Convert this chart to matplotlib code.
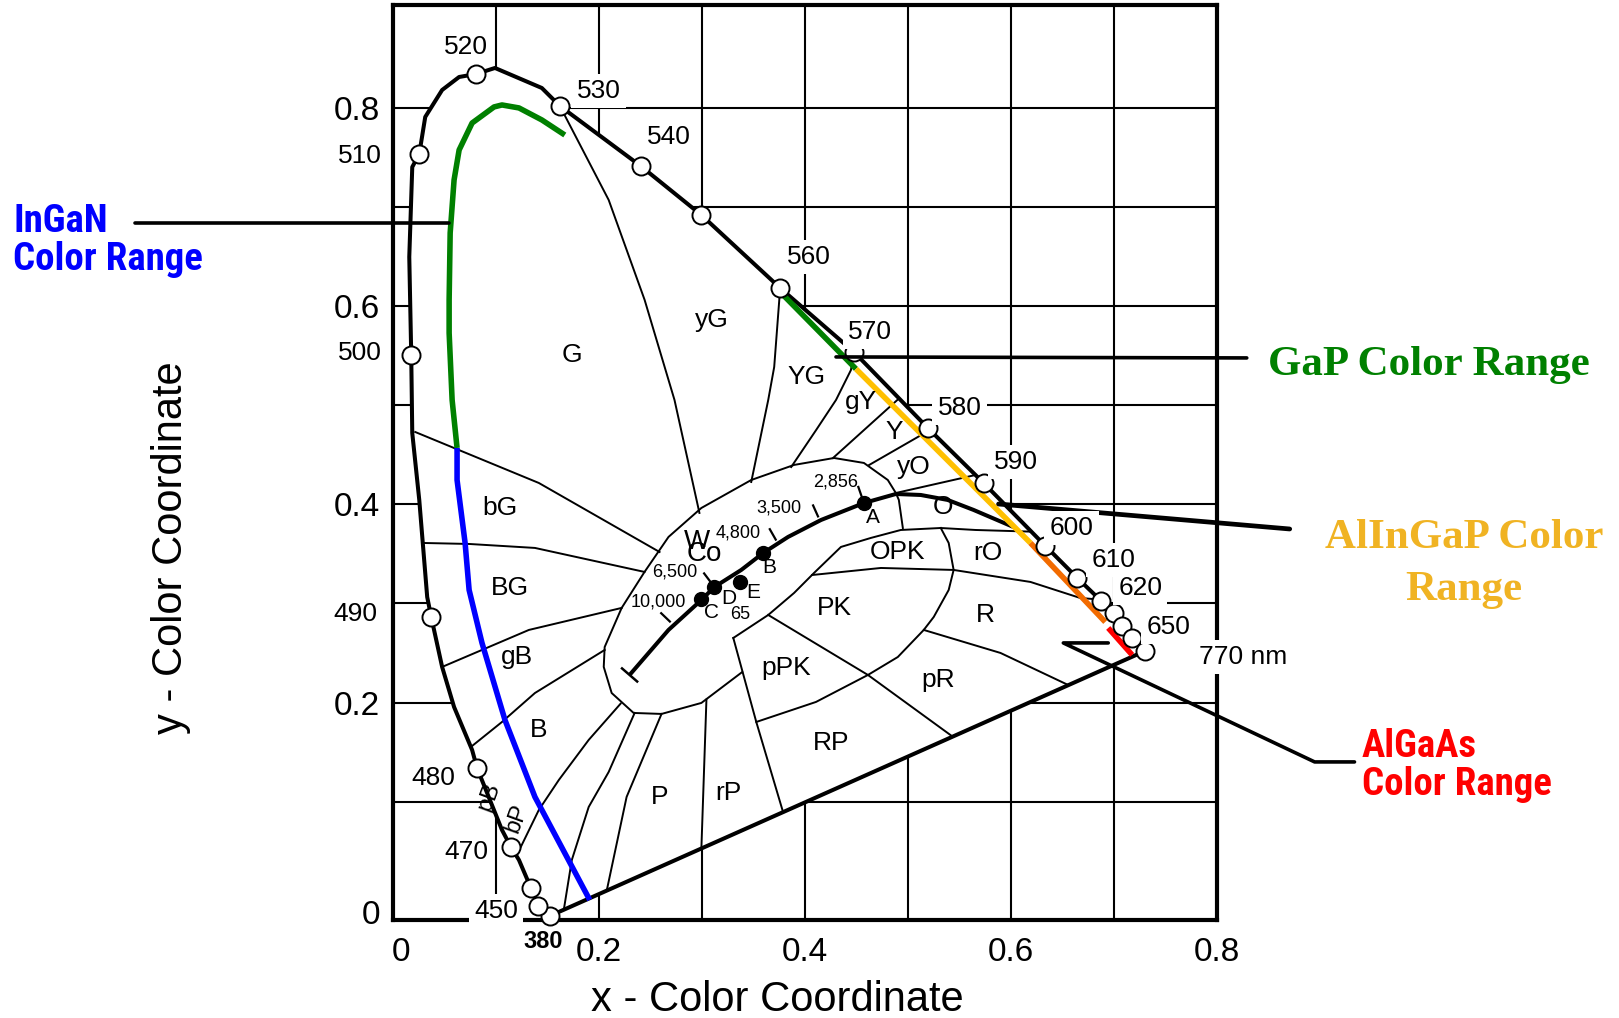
import matplotlib
matplotlib.use("Agg")
import matplotlib.pyplot as plt
from matplotlib import font_manager as fm
from matplotlib.transforms import ScaledTranslation
import numpy as np

plt.rcParams['font.family'] = ['Liberation Sans', 'DejaVu Sans']

# ---------------- data ----------------
x_ticks = [0, 0.2, 0.4, 0.6, 0.8]
x_tick_labels = ['0', '0.2', '0.4', '0.6', '0.8']
y_ticks = [0, 0.2, 0.4, 0.6, 0.8]
y_tick_labels = ['0', '0.2', '0.4', '0.6', '0.8']
grid_x = [0.1, 0.2, 0.3, 0.4, 0.5, 0.6, 0.7]
grid_y = [0.1, 0.2, 0.3, 0.4, 0.5, 0.6, 0.7, 0.8]

# spectral locus (0 = intermediate point without marker)
spec_wl = [380, 450, 460, 0, 470, 0, 480, 0, 0, 0, 490, 0, 0, 0, 500, 0, 0, 510,
           0, 0, 0, 520, 0, 0, 530, 540, 550, 560, 570, 580, 590, 600, 610, 620,
           630, 640, 650, 770]
spec_x = [0.1523, 0.1407, 0.1339, 0.1223, 0.1145, 0.1058, 0.0816, 0.0768, 0.0593,
          0.0477, 0.0371, 0.0332, 0.0255, 0.0187, 0.0177, 0.0158, 0.0187, 0.0255,
          0.0313, 0.0477, 0.0642, 0.0806, 0.0990, 0.1445, 0.1620, 0.2404, 0.2994,
          0.3759, 0.4475, 0.5192, 0.5734, 0.6334, 0.6644, 0.6876, 0.7002, 0.7079,
          0.7176, 0.7302]
spec_y = [-0.0151, -0.0050, 0.0131, 0.0413, 0.0545, 0.0716, 0.1341, 0.1523, 0.1956,
          0.2360, 0.2864, 0.3065, 0.4044, 0.4719, 0.5506, 0.6494, 0.7401, 0.7533,
          0.7906, 0.8178, 0.8309, 0.8339, 0.8400, 0.8198, 0.8017, 0.7412, 0.6917,
          0.6181, 0.5536, 0.4770, 0.4215, 0.3580, 0.3257, 0.3025, 0.2904, 0.2773,
          0.2652, 0.2521]

wl_text = ['520', '530', '540', '560', '570', '580', '590', '600', '610', '620',
           '650', '770 nm', '510', '500', '490', '480', '470', '450']
wl_lx = [0.0710, 0.1997, 0.2675, 0.4040, 0.4630, 0.5501, 0.6044, 0.6586, 0.6992,
         0.7254, 0.7525, 0.8251, -0.0326, -0.0326, -0.0365, 0.0390, 0.0710, 0.1000]
wl_ly = [0.8612, 0.8168, 0.7704, 0.6494, 0.5738, 0.4971, 0.4427, 0.3761, 0.3439,
         0.3156, 0.2763, 0.2460, 0.7513, 0.5526, 0.2894, 0.1240, 0.0494, -0.0101]
start_wl_text, start_wl_x, start_wl_y = '380', 0.1455, -0.0413

# colour-region boundaries
bnd_g_yg = [(0.1620, 0.8017), (0.2094, 0.7069), (0.2443, 0.6061), (0.2733, 0.5052), (0.2975, 0.3913)]
bnd_yg_YG = [(0.3759, 0.6181), (0.3701, 0.5385), (0.3643, 0.5052), (0.3478, 0.4225)]
bnd_YG_gY = [(0.4475, 0.5536), (0.4446, 0.5354), (0.4301, 0.5052), (0.4108, 0.4749), (0.3866, 0.4376)]
bnd_gY_Y = [(0.4905, 0.5060), (0.4272, 0.4467)]
bnd_Y_yO = [(0.5213, 0.4749), (0.4622, 0.4396)]
bnd_yO_O = [(0.5657, 0.4296), (0.4882, 0.4114)]
bnd_white = [(0.4950, 0.3761), (0.4911, 0.4044), (0.4882, 0.4114), (0.4804, 0.4245),
             (0.4572, 0.4417), (0.4282, 0.4467), (0.3894, 0.4397), (0.3478, 0.4245),
             (0.2994, 0.3963), (0.2675, 0.3671), (0.2442, 0.3318), (0.2220, 0.2955),
             (0.2055, 0.2561), (0.2046, 0.2360), (0.2123, 0.2097), (0.2336, 0.1896),
             (0.2607, 0.1886), (0.2994, 0.1997), (0.3391, 0.2309)]
bnd_ppk_left = [(0.3304, 0.2652), (0.3527, 0.1805), (0.3788, 0.0893)]
bnd_lobe_top = [(0.3304, 0.2652), (0.3643, 0.2884), (0.3894, 0.3106), (0.4088, 0.3308),
                (0.4349, 0.3570), (0.4640, 0.3661), (0.4930, 0.3741), (0.5318, 0.3761),
                (0.5656, 0.3741), (0.6175, 0.3725)]
bnd_lobe_right = [(0.5318, 0.3761), (0.5395, 0.3610), (0.5443, 0.3338), (0.5395, 0.3136),
                  (0.5250, 0.2864), (0.5153, 0.2733), (0.4901, 0.2460), (0.4611, 0.2279),
                  (0.4107, 0.2007), (0.3527, 0.1805)]
bnd_opk_pk = [(0.4069, 0.3287), (0.4737, 0.3358), (0.5443, 0.3338), (0.6189, 0.3217),
              (0.6673, 0.3055), (0.6855, 0.3040)]
bnd_diag = [(0.3643, 0.2884), (0.4611, 0.2279), (0.5434, 0.1657)]
bnd_pr_r = [(0.5153, 0.2733), (0.5898, 0.2501), (0.6557, 0.2177)]
bnd_g_bg = [(0.0216, 0.4729), (0.1416, 0.4215), (0.2588, 0.3519)]
bnd_bg_BG = [(0.0295, 0.3610), (0.0739, 0.3600), (0.1378, 0.3560), (0.2442, 0.3318)]
bnd_BG_gB = [(0.0477, 0.2360), (0.1319, 0.2733), (0.2220, 0.2955)]
bnd_gB_B = [(0.0756, 0.1553), (0.1058, 0.1805), (0.1378, 0.2097), (0.2055, 0.2531)]
bnd_B_bP = [(0.1203, 0.0464), (0.1416, 0.0918), (0.1610, 0.1220), (0.1900, 0.1624), (0.2210, 0.1990)]
bnd_bP_P = [(0.1658, -0.0091), (0.1736, 0.0413), (0.1900, 0.0948), (0.2094, 0.1301), (0.2346, 0.1896)]
bnd_P_in = [(0.2075, 0.0104), (0.2268, 0.1049), (0.2607, 0.1886)]
bnd_P_rP = [(0.2994, 0.0529), (0.3043, 0.2030)]

# Planckian locus and illuminants
planck_x = [0.2297, 0.2675, 0.2994, 0.3120, 0.3381, 0.3594, 0.3836, 0.4156, 0.4572,
            0.4882, 0.5124, 0.5385, 0.5637, 0.6024]
planck_y = [0.2279, 0.2733, 0.3035, 0.3166, 0.3338, 0.3509, 0.3671, 0.3842, 0.4013,
            0.4104, 0.4094, 0.4044, 0.3943, 0.3771]
cct_text = ['10,000', '6,500', '4,800', '3,500', '2,856']
cct_x = [0.2723, 0.3120, 0.3740, 0.4146, 0.4572]
cct_y = [0.2783, 0.3166, 0.3600, 0.3832, 0.4013]
cct_lx = [0.2578, 0.2733, 0.3352, 0.3749, 0.4301]
cct_ly = [0.3015, 0.3318, 0.3711, 0.3963, 0.4225]
illum_names = ['A', 'B', 'C', 'D', 'E']
illum_x = [0.4572, 0.3594, 0.2994, 0.3120, 0.3372]
illum_y = [0.4013, 0.3509, 0.3045, 0.3166, 0.3217]
illum_lx = [0.4659, 0.3652, 0.3091, 0.3256, 0.3498]
illum_ly = [0.3862, 0.3358, 0.2904, 0.3050, 0.3106]

# region names
reg_names = ['G', 'yG', 'YG', 'gY', 'Y', 'yO', 'O', 'OPK', 'rO', 'PK', 'R', 'pPK',
             'pR', 'RP', 'rP', 'P', 'B', 'gB', 'BG', 'bG']
reg_x = [0.1736, 0.3091, 0.4011, 0.4543, 0.4863, 0.5056, 0.5337, 0.4901, 0.5773,
         0.4282, 0.5753, 0.3817, 0.5288, 0.4253, 0.3256, 0.2588, 0.1416, 0.1203,
         0.1136, 0.1039]
reg_y = [0.5506, 0.5859, 0.5284, 0.5032, 0.4729, 0.4376, 0.3973, 0.3519, 0.3509,
         0.2955, 0.2884, 0.2350, 0.2229, 0.1593, 0.1089, 0.1049, 0.1724, 0.2460,
         0.3156, 0.3963]

# LED colour ranges
ingan_green = [(0.0622, 0.4568), (0.0574, 0.5052), (0.0545, 0.5728), (0.0545, 0.6060),
               (0.0555, 0.6736), (0.0593, 0.7271), (0.0642, 0.7573), (0.0768, 0.7845),
               (0.0981, 0.8007), (0.1058, 0.8027), (0.1223, 0.7997), (0.1445, 0.7876),
               (0.1668, 0.7724)]
ingan_blue = [(0.0622, 0.4568), (0.0622, 0.4245), (0.0700, 0.3610), (0.0739, 0.3136),
              (0.0864, 0.2602), (0.1087, 0.1825), (0.1378, 0.1049), (0.1910, 0.0010)]
gap_green = [(0.3759, 0.6141), (0.4495, 0.5365)]
alingap_yellow = [(0.4495, 0.5365), (0.6189, 0.3610)]
alingap_orange = [(0.6189, 0.3610), (0.6915, 0.2813)]
algaas_red = [(0.6944, 0.2753), (0.7176, 0.2481)]

# leader lines for the range callouts
lead_ingan = [(-0.2504, 0.6837), (0.0545, 0.6837)]
lead_gap = [(0.4301, 0.5486), (0.8289, 0.5476)]
lead_alingap = [(0.5879, 0.4003), (0.8706, 0.3751)]
lead_algaas = [(0.6944, 0.2602), (0.6508, 0.2602), (0.8948, 0.1402), (0.9335, 0.1402)]

# ---------------- figure ----------------
W, H = 1619, 1018
fig = plt.figure(figsize=(W / 100, H / 100), dpi=100, facecolor='white')
ax = fig.add_axes([393 / W, 98 / H, 824 / W, 915 / H])
ax.set_xlim(0.002, 0.8)
ax.set_ylim(-0.0192, 0.9035)
ax.set_xticks(x_ticks)
ax.set_xticklabels(x_tick_labels)
ax.set_yticks(y_ticks)
ax.set_yticklabels(y_tick_labels)
ax.tick_params(length=0, labelsize=24)
ax.tick_params(axis='x', pad=12)
ax.tick_params(axis='y', pad=9.5)
# the "0" labels sit slightly off their gridline in the original drawing
lab0y = ax.yaxis.get_major_ticks()[0].label1
lab0y.set_transform(lab0y.get_transform() + ScaledTranslation(0, -11 / 100, fig.dpi_scale_trans))
lab0x = ax.xaxis.get_major_ticks()[0].label1
lab0x.set_transform(lab0x.get_transform() + ScaledTranslation(8 / 100, 0, fig.dpi_scale_trans))
for s in ax.spines.values():
    s.set_linewidth(3)
    s.set_zorder(6)

for gx in grid_x:
    ax.axvline(gx, color='black', lw=1.5, zorder=0.5)
for gy in grid_y:
    ax.axhline(gy, color='black', lw=1.5, zorder=0.5)

# white interior of the locus
ax.fill(spec_x, spec_y, color='white', zorder=1)

# region boundaries
for b in [bnd_g_yg, bnd_yg_YG, bnd_YG_gY, bnd_gY_Y, bnd_Y_yO, bnd_yO_O, bnd_white,
          bnd_ppk_left, bnd_lobe_top, bnd_lobe_right, bnd_opk_pk, bnd_diag, bnd_pr_r,
          bnd_g_bg, bnd_bg_BG, bnd_BG_gB, bnd_gB_B, bnd_B_bP, bnd_bP_P, bnd_P_in, bnd_P_rP]:
    b = np.array(b)
    ax.plot(b[:, 0], b[:, 1], color='black', lw=1.4, zorder=2, solid_joinstyle='round')

# spectral locus + purple line
ax.plot(spec_x + [spec_x[0]], spec_y + [spec_y[0]], color='black', lw=2.9, zorder=3,
        solid_joinstyle='round', solid_capstyle='round')

# Planckian locus
ax.plot(planck_x, planck_y, color='black', lw=2.9, zorder=3, solid_capstyle='butt')


def to_px(pts):
    return ax.transData.transform(np.asarray(pts, float))


def to_data(pts):
    return ax.transData.inverted().transform(np.asarray(pts, float))


planck_px = to_px(np.column_stack([planck_x, planck_y]))
for cx, cy in zip(cct_x, cct_y):
    p = to_px([[cx, cy]])[0]
    i = int(np.argmin(np.hypot(*(planck_px - p).T)))
    i0, i1 = max(i - 1, 0), min(i + 1, len(planck_px) - 1)
    t = planck_px[i1] - planck_px[i0]
    t = t / np.hypot(*t)
    n = np.array([-t[1], t[0]])
    seg = to_data([p + 5 * n, p + 17 * n])
    ax.plot(seg[:, 0], seg[:, 1], color='black', lw=1.6, zorder=3)
# end cap
t = planck_px[1] - planck_px[0]
t = t / np.hypot(*t)
n = np.array([-t[1], t[0]])
seg = to_data([planck_px[0] - 10 * n, planck_px[0] + 10 * n])
ax.plot(seg[:, 0], seg[:, 1], color='black', lw=1.8, zorder=3)

ax.plot(illum_x, illum_y, 'o', ms=10, color='black', zorder=4)
for name, lx, ly in zip(illum_names, illum_lx, illum_ly):
    ax.text(lx, ly, name, fontsize=15, ha='center', va='center', zorder=4.5)
ax.text(0.3370, 0.2890, '65', fontsize=13, ha='center', va='center', zorder=4.5)
for txt, lx, ly in zip(cct_text, cct_lx, cct_ly):
    ax.text(lx, ly, txt, fontsize=13, ha='center', va='center', zorder=4.5)
ax.text(0.2955, 0.3620, 'W', fontsize=20, ha='center', va='center', zorder=4.5)
ax.text(0.3024, 0.3500, 'Co', fontsize=20, ha='center', va='center', zorder=4.5)

# region labels
for name, rx, ry in zip(reg_names, reg_x, reg_y):
    ax.text(rx, ry, name, fontsize=19, ha='center', va='center', zorder=4.5)
ax.text(0.0932, 0.1049, 'pB', fontsize=17, rotation=70, ha='center', va='center', zorder=4.5)
ax.text(0.1203, 0.0837, 'bP', fontsize=17, rotation=70, ha='center', va='center', zorder=4.5)

# LED ranges
for seg_pts, col in [(ingan_green, '#008000'), (ingan_blue, '#0000FF'),
                     (gap_green, '#008000'), (alingap_yellow, '#FFC000'),
                     (alingap_orange, '#F26B00'), (algaas_red, '#FF0000')]:
    a = np.array(seg_pts)
    ax.plot(a[:, 0], a[:, 1], color=col, lw=4, zorder=4, solid_capstyle='butt',
            solid_joinstyle='round')

# wavelength markers
mk = [i for i, w in enumerate(spec_wl) if w]
ax.plot([spec_x[i] for i in mk], [spec_y[i] for i in mk], 'o', ms=13, mfc='white',
        mec='black', mew=1.4, zorder=6.5, clip_on=False)

for txt, lx, ly in zip(wl_text, wl_lx, wl_ly):
    ax.text(lx, ly, txt, fontsize=19, ha='center', va='center', zorder=7, clip_on=False,
            bbox=dict(boxstyle='square,pad=0.2', fc='white', ec='none'))
ax.text(start_wl_x, start_wl_y, start_wl_text, fontsize=17, fontweight='bold',
        ha='center', va='center', zorder=7, clip_on=False)

# leader lines
for lead, lw in [(lead_ingan, 2.6), (lead_gap, 2.6), (lead_alingap, 3.4), (lead_algaas, 2.6)]:
    a = np.array(lead)
    ax.plot(a[:, 0], a[:, 1], color='black', lw=lw, zorder=6.8, clip_on=False,
            solid_capstyle='round')

# axis labels
ax.set_xlabel('x - Color Coordinate', fontsize=30)
ax.xaxis.set_label_coords((777 - 393) / 824, (920 - 980) / 915)
ax.set_ylabel('y - Color Coordinate', fontsize=30)
ax.yaxis.set_label_coords((191 - 393) / 824, (920 - 548) / 915)

# ---- callout texts ----
# choose a narrow bold sans if one is installed
narrow_kw = dict(family=['Liberation Sans', 'DejaVu Sans'])
cands = [f for f in fm.fontManager.ttflist
         if ('Narrow' in f.name or 'Condensed' in f.name or
             (str(f.stretch) in ('condensed', 'semi-condensed', 'extra-condensed', '75', '87')))
         and f.style == 'normal']
cands_bold = [f for f in cands if (f.weight in ('bold', 700, 'semibold', 600) or
                                   (isinstance(f.weight, int) and f.weight >= 600))]
pool = cands_bold or cands
pref = sorted(pool, key=lambda f: (0 if 'Liberation' in f.name else
                                   1 if 'Roboto' in f.name else
                                   2 if 'Noto Sans' == f.name else
                                   3 if 'DejaVu Sans' == f.name else 4))
if pref:
    narrow_kw = dict(family=[pref[0].name, 'Liberation Sans'], fontstretch=pref[0].stretch)
serif = ['Liberation Serif', 'DejaVu Serif']


def ftext(px, py, s, **kw):
    return fig.text(px / W, 1 - py / H, s, va='baseline', **kw)


renderer = fig.canvas.get_renderer()
probe = ftext(0, 0, 'Color Range', fontsize=28, fontweight='bold', **narrow_kw)
wpx = probe.get_window_extent(renderer).width
probe.remove()
nsize = min(28.0, 28.0 * 191.0 / wpx)

ftext(13, 232, 'InGaN', color='#0000FF', fontsize=nsize, fontweight='bold', **narrow_kw)
ftext(13, 270, 'Color Range', color='#0000FF', fontsize=nsize, fontweight='bold', **narrow_kw)
ftext(1268, 375, 'GaP Color Range', color='#008000', fontsize=31, fontweight='bold', family=serif)
ftext(1325, 548, 'AlInGaP Color', color='#F0B323', fontsize=31, fontweight='bold', family=serif)
ftext(1464, 600, 'Range', color='#F0B323', fontsize=31, fontweight='bold', family=serif, ha='center')
ftext(1362, 757, 'AlGaAs', color='#FF0000', fontsize=nsize, fontweight='bold', **narrow_kw)
ftext(1362, 795, 'Color Range', color='#FF0000', fontsize=nsize, fontweight='bold', **narrow_kw)

fig.savefig('out.png', dpi=100, facecolor='white')
